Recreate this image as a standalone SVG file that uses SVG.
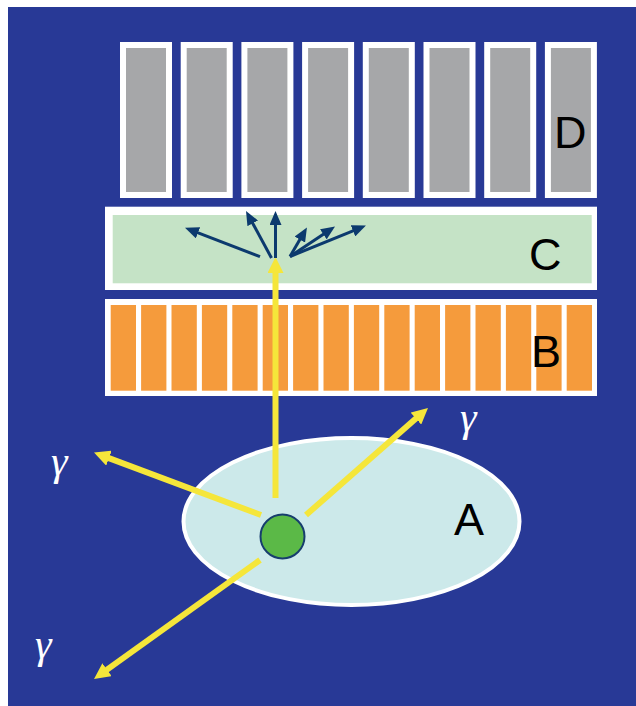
<svg xmlns="http://www.w3.org/2000/svg" width="636" height="706" viewBox="0 0 636 706">
<style>
.lbl{font-family:"Liberation Sans",Arial,sans-serif;font-size:45px;fill:#000}
.gam{font-family:"Liberation Serif","Times New Roman",serif;font-size:42px;font-style:italic;fill:#fff}
.dcell{fill:#a6a7a9;stroke:#fff;stroke-width:6}
.bcell{fill:#f59b3c}
.ya{stroke:#f5e63a;stroke-width:6;fill:none;marker-end:url(#yh)}
.da{stroke:#0c3a6e;stroke-width:3;fill:none;marker-end:url(#dh)}
</style>
<defs>
<marker id="yh" markerUnits="userSpaceOnUse" viewBox="0 0 16 16" markerWidth="16" markerHeight="16" refX="3" refY="8" orient="auto">
<path d="M0,0 L16,8 L0,16 z" fill="#f5e63a"/>
</marker>
<marker id="dh" markerUnits="userSpaceOnUse" viewBox="0 0 14 12" markerWidth="14" markerHeight="12" refX="4" refY="6" orient="auto">
<path d="M0,0 L14,6 L0,12 z" fill="#0c3a6e"/>
</marker>
</defs>
<rect x="8" y="7" width="628" height="699" fill="#283996"/>
<g id="D">
<rect class="dcell" x="123" y="45" width="46" height="150"/>
<rect class="dcell" x="183.7" y="45" width="46" height="150"/>
<rect class="dcell" x="244.4" y="45" width="46" height="150"/>
<rect class="dcell" x="305.1" y="45" width="46" height="150"/>
<rect class="dcell" x="365.8" y="45" width="46" height="150"/>
<rect class="dcell" x="426.5" y="45" width="46" height="150"/>
<rect class="dcell" x="487.2" y="45" width="46" height="150"/>
<rect class="dcell" x="547.9" y="45" width="46" height="150"/>
<text class="lbl" x="554" y="148">D</text>
</g>
<g id="C">
<rect x="105" y="206.7" width="492" height="83.3" fill="#fff"/>
<rect x="112.7" y="215" width="479" height="68.3" fill="#c5e3c6"/>
<text class="lbl" x="529" y="270">C</text>
</g>
<g id="B">
<rect x="105" y="299" width="492" height="97" fill="#fff"/>
<rect class="bcell" x="110.7" y="305" width="25.3" height="85.7"/>
<rect class="bcell" x="141.1" y="305" width="25.3" height="85.7"/>
<rect class="bcell" x="171.5" y="305" width="25.3" height="85.7"/>
<rect class="bcell" x="201.9" y="305" width="25.3" height="85.7"/>
<rect class="bcell" x="232.3" y="305" width="25.3" height="85.7"/>
<rect class="bcell" x="262.7" y="305" width="25.3" height="85.7"/>
<rect class="bcell" x="293.1" y="305" width="25.3" height="85.7"/>
<rect class="bcell" x="323.5" y="305" width="25.3" height="85.7"/>
<rect class="bcell" x="353.9" y="305" width="25.3" height="85.7"/>
<rect class="bcell" x="384.3" y="305" width="25.3" height="85.7"/>
<rect class="bcell" x="414.7" y="305" width="25.3" height="85.7"/>
<rect class="bcell" x="445.1" y="305" width="25.3" height="85.7"/>
<rect class="bcell" x="475.5" y="305" width="25.3" height="85.7"/>
<rect class="bcell" x="505.9" y="305" width="25.3" height="85.7"/>
<rect class="bcell" x="536.3" y="305" width="25.3" height="85.7"/>
<rect class="bcell" x="566.7" y="305" width="25.3" height="85.7"/>
<text class="lbl" x="531" y="367">B</text>
</g>
<g id="A">
<ellipse cx="351.5" cy="521.5" rx="168" ry="83.5" fill="#cce9ea" stroke="#fff" stroke-width="4"/>
<text class="lbl" x="454" y="535">A</text>
</g>
<g id="connectors">
<line class="ya" x1="275.5" y1="498" x2="275.5" y2="270"/>
<line class="ya" x1="261" y1="515" x2="106.2" y2="457.1"/>
<line class="ya" x1="260" y1="560" x2="104.6" y2="671.4"/>
<line class="ya" x1="306" y1="515" x2="418.2" y2="416.6"/>
<line class="da" x1="260" y1="256.7" x2="194.3" y2="231.3"/>
<line class="da" x1="271.5" y1="258" x2="250.8" y2="219.8"/>
<line class="da" x1="275.5" y1="258" x2="275.5" y2="221"/>
<line class="da" x1="290" y1="256.5" x2="301.9" y2="236.1"/>
<line class="da" x1="290" y1="256.5" x2="326.7" y2="232.1"/>
<line class="da" x1="290" y1="256.5" x2="356.7" y2="229.3"/>
</g>
<g id="source">
<circle cx="282.5" cy="536.5" r="22" fill="#5bb947" stroke="#173e6e" stroke-width="2"/>
</g>
<g id="gamma-labels">
<text class="gam" x="51" y="475">γ</text>
<text class="gam" x="35" y="658">γ</text>
<text class="gam" x="460" y="431">γ</text>
</g>
</svg>
